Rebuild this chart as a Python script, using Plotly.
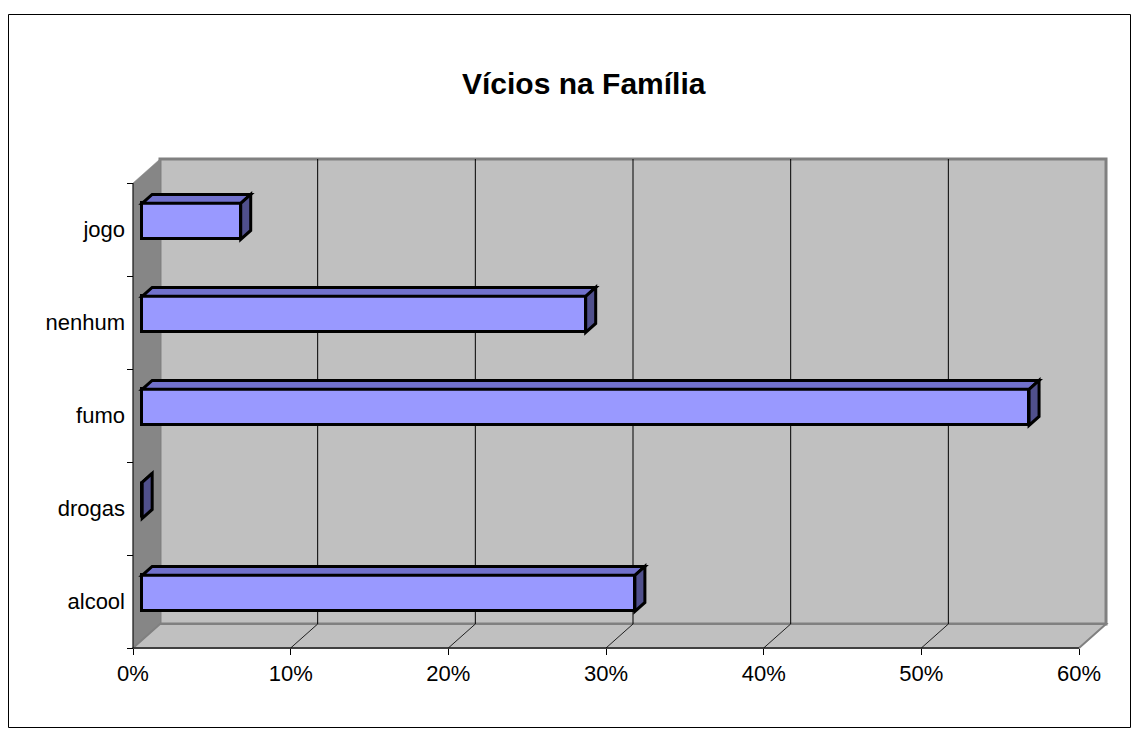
import plotly.graph_objects as go

# ---- data ----
categories = ["alcool", "drogas", "fumo", "nenhum", "jogo"]
values = [31.25, 0.0, 56.25, 28.13, 6.25]          # percent
x_ticks = [0, 10, 20, 30, 40, 50, 60]
x_ticklabels = ["0%", "10%", "20%", "30%", "40%", "50%", "60%"]
title_text = "<b>Vícios na Família</b>"

# ---- layout geometry (page pixels; the page body has an 8px margin) ----
OFF = 8
W, H = 1139 - 2 * OFF, 736 - 2 * OFF


def fx(px):
    return (px - OFF) / W


def fy(py):
    return 1 - (py - OFF) / H


X0_PX = 133.0        # front 0%
PX_PER_PCT = 15.767  # pixels per percent
Y_FRONT_BOTTOM = 648.0
PX_PER_CAT = 93.0
DEPTH_X_PX, DEPTH_Y_PX = 27.0, 24.0
DX = DEPTH_X_PX / PX_PER_PCT       # depth shift in x data units
DY = DEPTH_Y_PX / PX_PER_CAT       # depth shift in y data units
BAR_F0, BAR_F1 = 0.34, 0.71        # bar depth fractions
BAR_H = 36.0 / PX_PER_CAT
XMAX = 60
NCAT = len(categories)

dom_l, dom_r, dom_t, dom_b = 115.0, 1125.0, 150.0, 662.0
x_range = [(dom_l - X0_PX) / PX_PER_PCT, (dom_r - X0_PX) / PX_PER_PCT]
y_range = [-0.5 - (dom_b - Y_FRONT_BOTTOM) / PX_PER_CAT,
           -0.5 + (Y_FRONT_BOTTOM - dom_t) / PX_PER_CAT]

FONT = "Liberation Sans, Arial, sans-serif"
FRONT_COL = "#9999FF"
TOP_COL = "#7171CC"
SIDE_COL = "#50508C"
WALL_COL = "#C0C0C0"
SIDEWALL_COL = "#868686"
EDGE_GRAY = "#808080"

shapes = []


def poly(pts, fill, line_col, lw, layer="below"):
    path = "M " + " L ".join(f"{x},{y}" for x, y in pts) + " Z"
    return dict(type="path", path=path, xref="x", yref="y", fillcolor=fill,
                line=dict(color=line_col, width=lw), layer=layer)


yb, yt = -0.5, NCAT - 0.5
# back wall
shapes.append(poly([(DX, yb + DY), (XMAX + DX, yb + DY), (XMAX + DX, yt + DY), (DX, yt + DY)],
                   WALL_COL, EDGE_GRAY, 3))
# side wall (left)
shapes.append(poly([(0, yb), (0, yt), (DX, yt + DY), (DX, yb + DY)],
                   SIDEWALL_COL, SIDEWALL_COL, 0.5))
# floor
shapes.append(poly([(0, yb), (XMAX, yb), (XMAX + DX, yb + DY), (DX, yb + DY)],
                   WALL_COL, EDGE_GRAY, 2))
# back-wall gridlines and floor diagonals
for v in x_ticks[1:-1]:
    shapes.append(dict(type="line", xref="x", yref="y", x0=v + DX, x1=v + DX,
                       y0=yb + DY, y1=yt + DY, line=dict(color="black", width=1), layer="below"))
    shapes.append(dict(type="line", xref="x", yref="y", x0=v, x1=v + DX,
                       y0=yb, y1=yb + DY, line=dict(color="#202020", width=1), layer="below"))
# front-left edge and floor front edge
shapes.append(dict(type="line", xref="x", yref="y", x0=0, x1=0, y0=yb, y1=yt,
                   line=dict(color="black", width=1), layer="below"))
shapes.append(dict(type="line", xref="x", yref="y", x0=0, x1=XMAX, y0=yb, y1=yb,
                   line=dict(color="black", width=1), layer="below"))

# bar top and side faces
bx0 = BAR_F0 * DX
by0 = BAR_F0 * DY
bdx = (BAR_F1 - BAR_F0) * DX
bdy = (BAR_F1 - BAR_F0) * DY
for i, v in enumerate(values):
    yc = i + by0
    ylo, yhi = yc - BAR_H / 2, yc + BAR_H / 2
    xr = bx0 + v
    shapes.append(poly([(bx0, yhi), (xr, yhi), (xr + bdx, yhi + bdy), (bx0 + bdx, yhi + bdy)],
                       TOP_COL, "black", 3, layer="above"))
    shapes.append(poly([(xr, ylo), (xr, yhi), (xr + bdx, yhi + bdy), (xr + bdx, ylo + bdy)],
                       SIDE_COL, "black", 3, layer="above"))

# chart border
shapes.append(dict(type="rect", xref="paper", yref="paper",
                   x0=fx(8.5), x1=fx(1130.5), y0=fy(727.5), y1=fy(14.5),
                   line=dict(color="black", width=1), fillcolor="rgba(0,0,0,0)", layer="below"))

fig = go.Figure()
fig.add_trace(go.Bar(
    y=[i + by0 for i in range(NCAT)], x=values, base=[bx0] * NCAT,
    orientation="h", width=BAR_H,
    marker=dict(color=FRONT_COL, line=dict(color="black", width=3)),
    hovertemplate="%{customdata}: %{x:.1f}%<extra></extra>",
    customdata=categories, showlegend=False,
))
# invisible trace to activate boundary-tick axis
fig.add_trace(go.Scatter(x=[0], y=[0], yaxis="y2", mode="markers",
                         marker=dict(opacity=0), hoverinfo="skip", showlegend=False))

fig.update_layout(
    width=W, height=H,
    margin=dict(l=0, r=0, t=0, b=0),
    paper_bgcolor="white", plot_bgcolor="rgba(0,0,0,0)",
    shapes=shapes,
    font=dict(family=FONT, size=22, color="black"),
    xaxis=dict(domain=[fx(dom_l), fx(dom_r)], range=x_range, autorange=False,
               anchor="free", position=fy(Y_FRONT_BOTTOM),
               tickvals=x_ticks, ticktext=x_ticklabels, ticks="outside", ticklen=6,
               tickcolor="black", tickwidth=1, showgrid=False, zeroline=False,
               showline=False, fixedrange=True, tickfont=dict(size=22)),
    yaxis=dict(domain=[fy(dom_b), fy(dom_t)], range=y_range, autorange=False,
               anchor="free", position=fx(X0_PX),
               tickvals=list(range(NCAT)), ticktext=categories, ticks="",
               ticklabelstandoff=8, showgrid=False, zeroline=False, showline=False,
               fixedrange=True, tickfont=dict(size=22)),
    yaxis2=dict(domain=[fy(dom_b), fy(dom_t)], range=y_range, autorange=False,
                overlaying="y", anchor="free", position=fx(X0_PX), side="left",
                tickvals=[k - 0.5 for k in range(NCAT + 1)], ticks="outside", ticklen=6,
                tickcolor="black", showticklabels=False, showgrid=False, zeroline=False,
                showline=False, fixedrange=True),
    annotations=[dict(text=title_text, x=fx(584), y=fy(84), xref="paper", yref="paper",
                      showarrow=False, xanchor="center", yanchor="middle",
                      font=dict(size=30, family=FONT, color="black"))],
    bargap=0,
)

fig.write_html("out.html")
